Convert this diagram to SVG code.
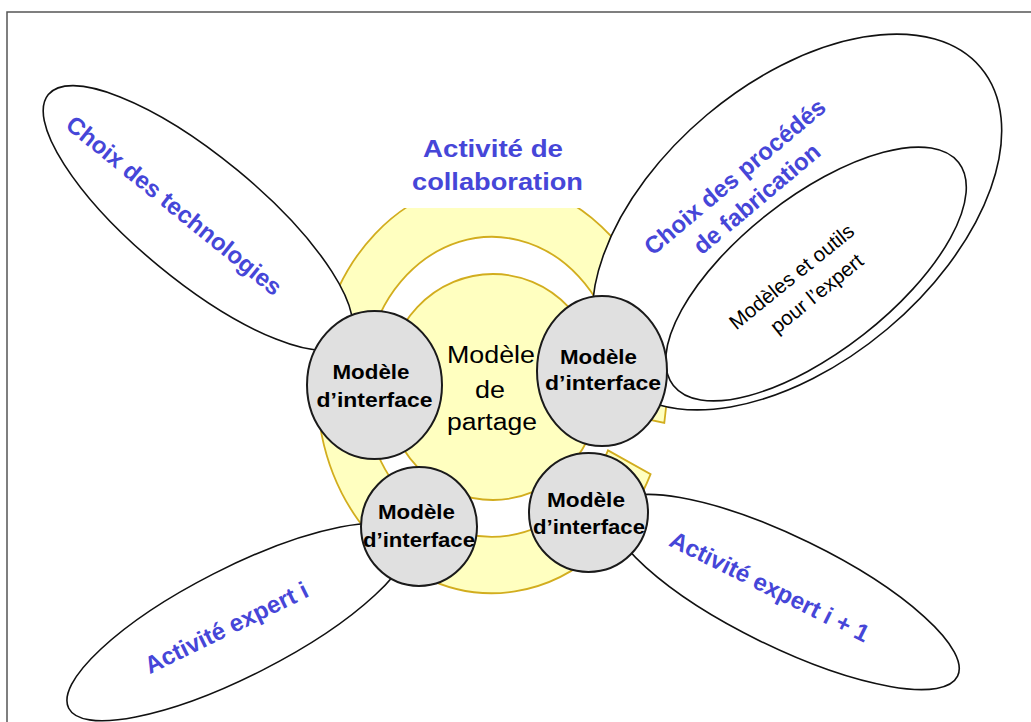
<svg xmlns="http://www.w3.org/2000/svg" width="1031" height="722" viewBox="0 0 1031 722">
<style>
.petal{fill:#fff;stroke:#111;stroke-width:1.6}
.node{fill:#e0e0e0;stroke:#1a1a1a;stroke-width:2}
.spiral{fill:#ffffc0;stroke:#d2ad1e;stroke-width:1.8}
.blue{font-family:"Liberation Sans",Arial,sans-serif;font-weight:bold;font-size:24px;fill:#4646d8;text-anchor:middle}
.nt{font-family:"Liberation Sans",Arial,sans-serif;font-weight:bold;font-size:20px;fill:#000;text-anchor:middle}
.ct{font-family:"Liberation Sans",Arial,sans-serif;font-size:23px;fill:#000;text-anchor:middle}
.it{font-family:"Liberation Sans",Arial,sans-serif;font-size:20.5px;fill:#000;text-anchor:middle}
</style>
<rect x="0" y="0" width="1031" height="722" fill="#fff"/>
<rect x="7" y="12" width="1040" height="720" fill="none" stroke="#555" stroke-width="1.5"/>

<g id="shared-model">
<path class="spiral" d="M 650.6 474.1 A 175 206 0 1 1 664.3 422.8 L 618.1 413.0 A 128 150 0 1 0 608.0 450.4 Z"/>
<ellipse class="spiral" cx="493" cy="387" rx="107" ry="113"/>
<rect x="390" y="120" width="212" height="88" fill="#fff"/>
</g>

<g id="petal-technologies">
<ellipse class="petal" cx="198" cy="218" rx="194" ry="62" transform="rotate(39.5 198 218)"/>
<text class="blue" font-size="23" transform="translate(169 212) rotate(39)">Choix des technologies</text>
</g>

<g id="petal-fabrication">
<ellipse class="petal" cx="797" cy="222" rx="240" ry="140" transform="rotate(-40 797 222)"/>
<text class="blue" font-size="23" transform="translate(740 183) rotate(-40)">Choix des procédés</text>
<text class="blue" font-size="23" transform="translate(762 205) rotate(-40)">de fabrication</text>
</g>

<g id="inner-tools">
<ellipse class="petal" cx="816" cy="274" rx="181" ry="77" transform="rotate(-38 816 274)"/>
<text class="it" transform="translate(796 282) rotate(-39)">Modèles et outils</text>
<text class="it" transform="translate(821 299) rotate(-39)">pour l’expert</text>
</g>

<g id="petal-expert-i">
<ellipse class="petal" cx="238" cy="622" rx="190" ry="54" transform="rotate(-27 238 622)"/>
<text class="blue" transform="translate(230 635) rotate(-26)">Activité expert i</text>
</g>

<g id="petal-expert-i1">
<ellipse class="petal" cx="785" cy="592" rx="192" ry="55" transform="rotate(26 785 592)"/>
<text class="blue" transform="translate(766 594) rotate(26.4)">Activité expert i + 1</text>
</g>

<g id="connectors"></g>

<g id="node-left">
<ellipse class="node" cx="374.5" cy="385" rx="67.5" ry="74"/>
<text class="nt" x="371" y="379" textLength="77" lengthAdjust="spacingAndGlyphs">Modèle</text>
<text class="nt" x="374.5" y="407" textLength="116" lengthAdjust="spacingAndGlyphs">d’interface</text>
</g>

<g id="node-right">
<ellipse class="node" cx="602" cy="371" rx="65" ry="75"/>
<text class="nt" x="598.5" y="364" textLength="77" lengthAdjust="spacingAndGlyphs">Modèle</text>
<text class="nt" x="603" y="390" textLength="116" lengthAdjust="spacingAndGlyphs">d’interface</text>
</g>

<g id="node-bottom-left">
<ellipse class="node" cx="419" cy="526.5" rx="58" ry="59.5"/>
<text class="nt" x="416.5" y="519" textLength="77" lengthAdjust="spacingAndGlyphs">Modèle</text>
<text class="nt" x="419" y="547" textLength="112" lengthAdjust="spacingAndGlyphs">d’interface</text>
</g>

<g id="node-bottom-right">
<ellipse class="node" cx="588.5" cy="512.5" rx="59.5" ry="59.5"/>
<text class="nt" x="586" y="507" textLength="78" lengthAdjust="spacingAndGlyphs">Modèle</text>
<text class="nt" x="589" y="534" textLength="112" lengthAdjust="spacingAndGlyphs">d’interface</text>
</g>

<g id="center-label">
<text class="ct" x="491" y="363" textLength="88" lengthAdjust="spacingAndGlyphs">Modèle</text>
<text class="ct" x="490" y="398" textLength="30" lengthAdjust="spacingAndGlyphs">de</text>
<text class="ct" x="492" y="430" textLength="90" lengthAdjust="spacingAndGlyphs">partage</text>
</g>

<g id="title">
<text class="blue" font-size="23" x="493" y="157" textLength="140" lengthAdjust="spacingAndGlyphs">Activité de</text>
<text class="blue" font-size="23" x="497.5" y="190" textLength="171" lengthAdjust="spacingAndGlyphs">collaboration</text>
</g>
</svg>
